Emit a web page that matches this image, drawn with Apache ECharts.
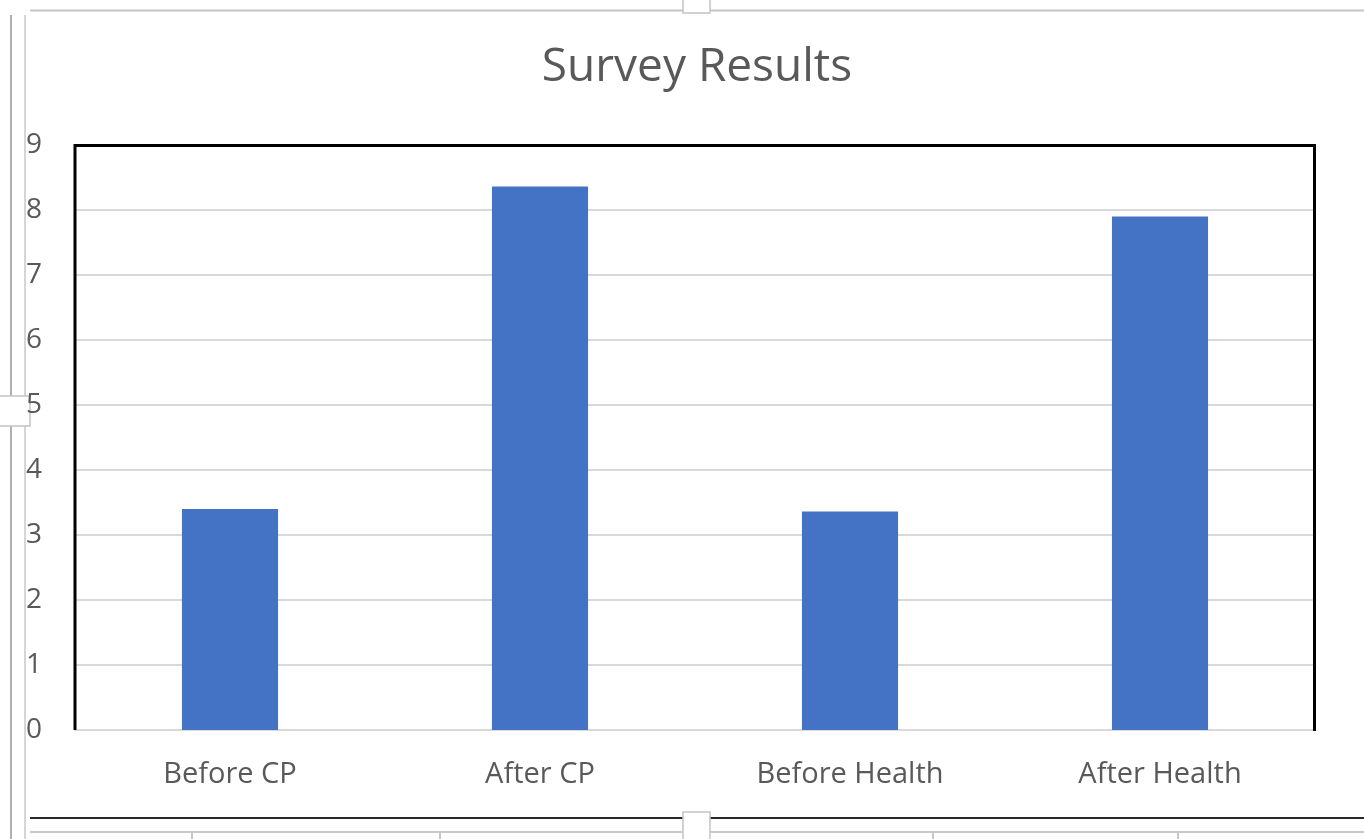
<!DOCTYPE html>
<html>
<head>
<meta charset="utf-8">
<script src="https://cdn.jsdelivr.net/npm/echarts@6/dist/echarts.min.js"></script>
<style>
  html, body { margin: 0; padding: 0; background: #ffffff; }
  #chart { width: 1364px; height: 839px; }
</style>
</head>
<body>
<div id="chart"></div>
<script>
// Survey scores per stage
const categories = ['Before CP', 'After CP', 'Before Health', 'After Health'];
const scores = [3.40, 8.36, 3.36, 7.90];
const yTicks = [0, 1, 2, 3, 4, 5, 6, 7, 8, 9];
const chartTitle = 'Survey Results';

const FONT = 'Open Sans';
const chart = echarts.init(document.getElementById('chart'), null, { renderer: 'canvas' });

// Sheet frame around the embedded chart
const frame = [
  { type: 'line', shape: { x1: 30, y1: 10.5, x2: 1364, y2: 10.5 }, style: { stroke: '#c4c4c4', lineWidth: 2 } },
  { type: 'line', shape: { x1: 11, y1: 15, x2: 11, y2: 839 }, style: { stroke: '#b0b0b0', lineWidth: 2 } },
  { type: 'line', shape: { x1: 25, y1: 15, x2: 25, y2: 839 }, style: { stroke: '#d6d6d6', lineWidth: 2 } },
  { type: 'rect', shape: { x: 683, y: -2, width: 27, height: 15 }, style: { fill: '#ffffff', stroke: '#c4c4c4', lineWidth: 1.5 } },
  { type: 'rect', shape: { x: -2, y: 396, width: 32, height: 30 }, style: { fill: '#ffffff', stroke: '#c4c4c4', lineWidth: 1.5 } },
  { type: 'line', shape: { x1: 30, y1: 818, x2: 1364, y2: 818 }, style: { stroke: '#2a2a2a', lineWidth: 2 } },
  { type: 'line', shape: { x1: 30, y1: 832, x2: 1364, y2: 832 }, style: { stroke: '#c8c8c8', lineWidth: 2 } },
  { type: 'line', shape: { x1: 192, y1: 832, x2: 192, y2: 839 }, style: { stroke: '#c8c8c8', lineWidth: 2 } },
  { type: 'line', shape: { x1: 440, y1: 832, x2: 440, y2: 839 }, style: { stroke: '#c8c8c8', lineWidth: 2 } },
  { type: 'line', shape: { x1: 933, y1: 832, x2: 933, y2: 839 }, style: { stroke: '#c8c8c8', lineWidth: 2 } },
  { type: 'line', shape: { x1: 1178, y1: 832, x2: 1178, y2: 839 }, style: { stroke: '#c8c8c8', lineWidth: 2 } },
  { type: 'rect', shape: { x: 683, y: 812, width: 27, height: 30 }, style: { fill: '#ffffff', stroke: '#c4c4c4', lineWidth: 1.5 } },
  // plot area border: top, left, right
  { type: 'polyline', shape: { points: [[75, 730], [75, 145.5], [1314.5, 145.5], [1314.5, 731]] }, style: { stroke: '#000000', lineWidth: 3, fill: null }, z: 10 },
  // chart title
  { type: 'text', x: 697, y: 68, style: { text: chartTitle, fontFamily: FONT, fontSize: 46, fill: '#595959', align: 'center', verticalAlign: 'middle' } }
];

chart.setOption({
  animation: false,
  backgroundColor: '#ffffff',
  grid: { left: 75, right: 49, top: 145, bottom: 109, containLabel: false },
  xAxis: {
    type: 'category',
    data: categories,
    axisLine: { show: true, lineStyle: { color: '#d9d9d9', width: 2 } },
    axisTick: { show: false },
    axisLabel: { fontFamily: FONT, fontSize: 29, color: '#595959', margin: 30 }
  },
  yAxis: {
    type: 'value',
    min: yTicks[0],
    max: yTicks[yTicks.length - 1],
    interval: 1,
    axisLine: { show: false },
    axisTick: { show: false },
    splitLine: { lineStyle: { color: '#d9d9d9', width: 2 } },
    axisLabel: { fontFamily: FONT, fontSize: 28, color: '#595959', margin: 49, align: 'left' }
  },
  series: [{
    type: 'bar',
    data: scores,
    barWidth: '31%',
    itemStyle: { color: '#4472c4' }
  }],
  graphic: frame
});
</script>
</body>
</html>
